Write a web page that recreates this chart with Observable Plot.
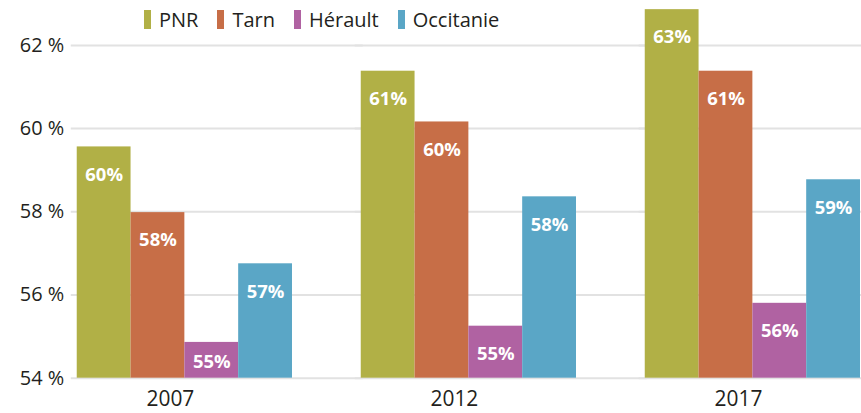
<!DOCTYPE html>
<html>
<head>
<meta charset="utf-8">
<script src="https://cdn.jsdelivr.net/npm/d3@7"></script>
<script src="https://cdn.jsdelivr.net/npm/@observablehq/plot@0.6"></script>
<style>
  html, body { margin: 0; padding: 0; background: white; overflow: hidden; }
  #wrap { position: relative; width: 861px; height: 413px; overflow: hidden; }
  #legend { position: absolute; left: 144px; top: 9px; display: flex; gap: 19px;
            font-family: 'Open Sans', sans-serif; font-size: 20px; color: #231f20; }
  .item { display: flex; align-items: center; gap: 8px; height: 20px; }
  .sw { width: 7px; height: 19px; display: inline-block; }
  .lab { line-height: 20px; position: relative; top: 1px; }
</style>
</head>
<body>
<div id="wrap"><div id="chart"></div><div id="legend"></div></div>
<script>
const years = ["2007", "2012", "2017"];
const series = ["PNR", "Tarn", "Hérault", "Occitanie"];
const pnr = [59.56, 61.38, 62.86];
const tarn = [57.98, 60.16, 61.38];
const herault = [54.86, 55.25, 55.8];
const occitanie = [56.75, 58.36, 58.77];
const colors = ["#b1b046", "#c76e47", "#b062a2", "#5aa6c6"];
const yTicks = [54, 56, 58, 60, 62];

const valuesBySeries = [pnr, tarn, herault, occitanie];
const data = [];
years.forEach((yr, i) => {
  series.forEach((s, j) => data.push({year: yr, series: s, value: valuesBySeries[j][i]}));
});
const grid = [];
years.forEach(yr => yTicks.forEach(t => grid.push({year: yr, v: t})));

const chart = Plot.plot({
  width: 864,
  height: 413,
  marginLeft: 69,
  marginRight: 0,
  marginTop: 0,
  marginBottom: 34,
  style: {fontFamily: "'Open Sans', sans-serif", color: "#231f20", background: "white"},
  fx: {domain: years, paddingInner: 0.2302, paddingOuter: 0.007, align: 1, label: null},
  x: {domain: series, padding: 0, axis: null},
  y: {domain: [54, 63.08]},
  color: {domain: series, range: colors},
  marks: [
    Plot.ruleY(grid, {fx: "year", y: "v", stroke: "#e2e2e2", strokeWidth: 2, insetLeft: -4, insetRight: -70}),
    Plot.axisY(yTicks, {anchor: "left", tickSize: 0, tickPadding: 11, fontSize: 20, fill: "#231f20",
                         tickFormat: d => d + " %", label: null}),
    Plot.barY(data, {fx: "year", x: "series", y1: () => 54, y2: "value", fill: "series"}),
    Plot.text(data, {fx: "year", x: "series", y: d => Math.max(d.value, 55.06),
                     text: d => Math.round(d.value) + "%", dy: 28, lineAnchor: "middle",
                     fill: "white", fontWeight: "bold", fontSize: 18.5}),
    Plot.axisFx({anchor: "bottom", tickSize: 0, tickPadding: 13, fontSize: 21, fill: "#231f20", label: null, dx: -14})
  ]
});
document.getElementById("chart").appendChild(chart);

const legend = document.getElementById("legend");
series.forEach((s, i) => {
  const it = document.createElement("div");
  it.className = "item";
  const sw = document.createElement("span");
  sw.className = "sw";
  sw.style.background = colors[i];
  const lb = document.createElement("span");
  lb.className = "lab";
  lb.textContent = s;
  it.appendChild(sw);
  it.appendChild(lb);
  legend.appendChild(it);
});
</script>
</body>
</html>
